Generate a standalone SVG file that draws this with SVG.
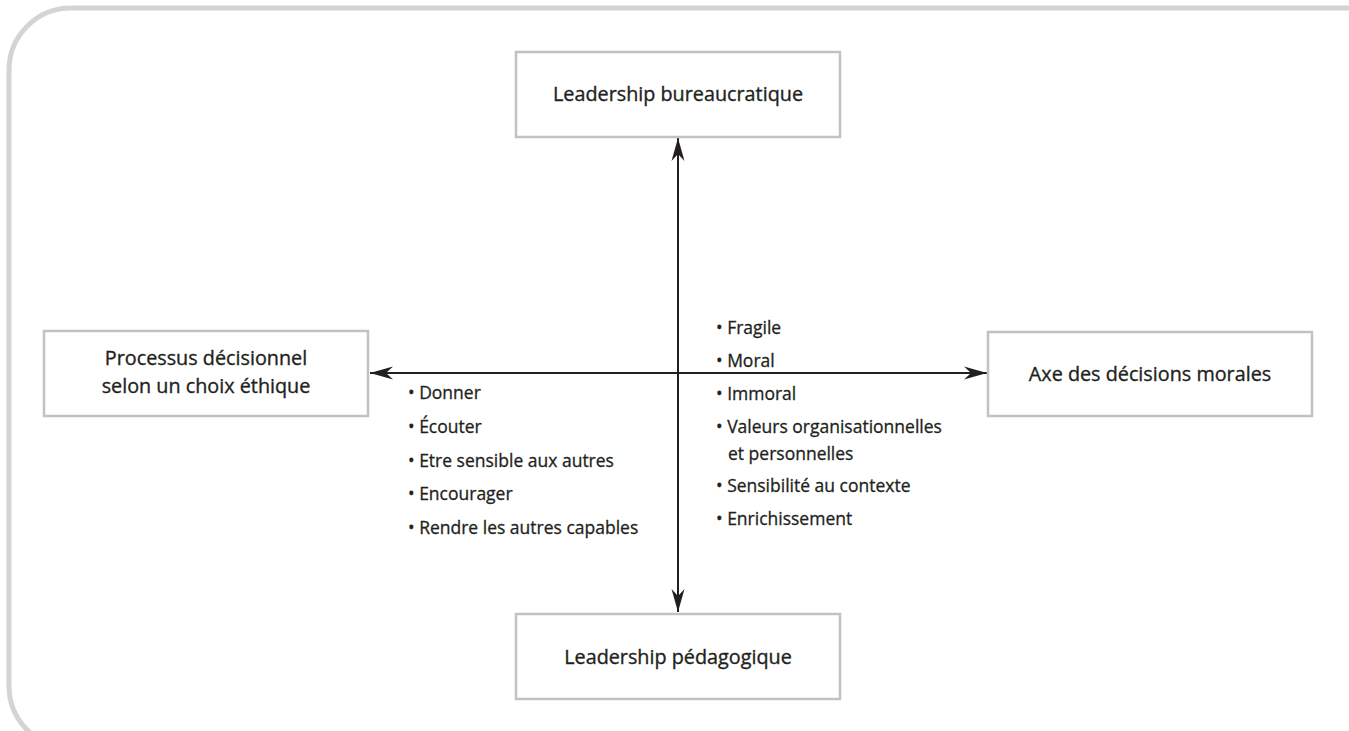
<svg xmlns="http://www.w3.org/2000/svg" width="1349" height="731" viewBox="0 0 1349 731">
<style>
.frame{fill:none;stroke:#d4d4d4;stroke-width:5}
.box{fill:#ffffff;stroke:#c2c2c4;stroke-width:2.5}
.t{font-family:"Open Sans","Noto Sans",sans-serif;font-weight:500;fill:#231f20;stroke:#231f20;stroke-width:0.35;font-size:19.8px;text-anchor:middle}
.li{font-family:"Open Sans","Noto Sans",sans-serif;font-weight:500;fill:#231f20;stroke:#231f20;stroke-width:0.3;font-size:17.5px}
.axis{stroke:#231f20;stroke-width:2;fill:none}
</style>
<defs>
<marker id="ah" markerUnits="userSpaceOnUse" markerWidth="26" markerHeight="16" viewBox="-24 -8 26 16" refX="0" refY="0" orient="auto">
<path d="M0,0 L-23,-6.5 L-16,0 L-23,6.5 Z" fill="#231f20"/>
</marker>
</defs>
<rect class="frame" x="9" y="8" width="1420" height="740" rx="62" ry="62"/>
<g id="connectors">
<line class="axis" x1="678" y1="373" x2="678" y2="138" marker-end="url(#ah)"/>
<line class="axis" x1="678" y1="373" x2="678" y2="612" marker-end="url(#ah)"/>
<line class="axis" x1="678" y1="373" x2="370" y2="373" marker-end="url(#ah)"/>
<line class="axis" x1="678" y1="373" x2="987" y2="373" marker-end="url(#ah)"/>
</g>
<g id="node-top">
<rect class="box" x="516" y="52" width="324" height="85"/>
<text class="t" x="678" y="101">Leadership bureaucratique</text>
</g>
<g id="node-bottom">
<rect class="box" x="516" y="614" width="324" height="85"/>
<text class="t" x="678" y="664">Leadership pédagogique</text>
</g>
<g id="node-left">
<rect class="box" x="44" y="331" width="324" height="85"/>
<text class="t" x="206" y="365">Processus décisionnel</text>
<text class="t" x="206" y="393">selon un choix éthique</text>
</g>
<g id="node-right">
<rect class="box" x="988" y="332" width="324" height="84"/>
<text class="t" x="1150" y="381">Axe des décisions morales</text>
</g>
<g id="list-left">
<text class="li" x="408" y="399">• Donner</text>
<text class="li" x="408" y="433">• Écouter</text>
<text class="li" x="408" y="467">• Etre sensible aux autres</text>
<text class="li" x="408" y="500">• Encourager</text>
<text class="li" x="408" y="534">• Rendre les autres capables</text>
</g>
<g id="list-right">
<text class="li" x="716" y="334">• Fragile</text>
<text class="li" x="716" y="367">• Moral</text>
<text class="li" x="716" y="400">• Immoral</text>
<text class="li" x="716" y="433">• Valeurs organisationnelles</text>
<text class="li" x="728" y="460">et personnelles</text>
<text class="li" x="716" y="492">• Sensibilité au contexte</text>
<text class="li" x="716" y="525">• Enrichissement</text>
</g>
</svg>
